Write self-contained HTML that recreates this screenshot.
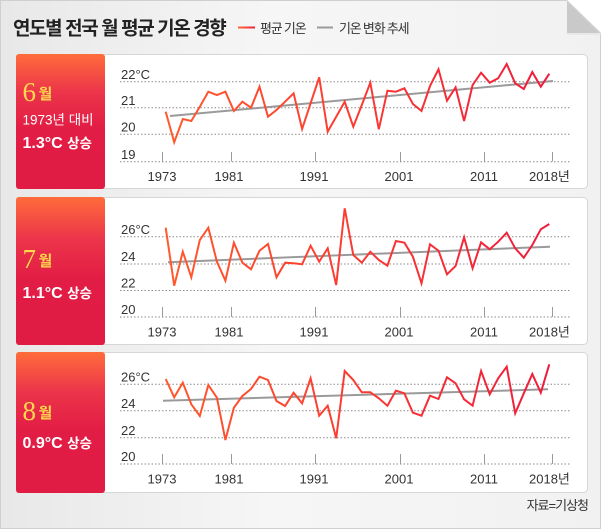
<!DOCTYPE html>
<html><head><meta charset="utf-8"><style>
html,body{margin:0;padding:0;background:#fff;}
svg{display:block;}
text{font-family:"Liberation Sans","Noto Sans CJK KR",sans-serif;}
</style></head><body>
<svg width="601" height="530" viewBox="0 0 601 530" xmlns="http://www.w3.org/2000/svg">
<defs>
<linearGradient id="bg" x1="0" x2="1" y1="0" y2="0">
<stop offset="0" stop-color="#e8e8e8"/><stop offset="0.45" stop-color="#f6f6f6"/><stop offset="1" stop-color="#f1f1f1"/>
</linearGradient>
<linearGradient id="rb" x1="0" x2="0" y1="0" y2="1">
<stop offset="0" stop-color="#ff6c3b"/><stop offset="0.28" stop-color="#ec354a"/><stop offset="0.55" stop-color="#e21d45"/><stop offset="1" stop-color="#e01b44"/>
</linearGradient>
<linearGradient id="ln" gradientUnits="userSpaceOnUse" x1="165" y1="0" x2="550" y2="0">
<stop offset="0" stop-color="#ff5a2c"/><stop offset="0.5" stop-color="#fb3a33"/><stop offset="1" stop-color="#ee1c3c"/>
</linearGradient>
<linearGradient id="lg" gradientUnits="userSpaceOnUse" x1="238" y1="0" x2="255" y2="0">
<stop offset="0" stop-color="#ff6a3a"/><stop offset="1" stop-color="#e8203e"/>
</linearGradient>
</defs>
<!-- frame -->
<rect x="0.5" y="0.5" width="600" height="528" fill="url(#bg)" stroke="#cfcfcf"/>
<polygon points="567,0 601,0 601,33" fill="#ffffff"/>
<polygon points="567,0 567,33 601,33" fill="#c9c9c9"/>
<line x1="567" y1="0.5" x2="601" y2="33.5" stroke="#d8d8d8"/>
<line x1="567" y1="34" x2="601" y2="34" stroke="#e0e0e0"/>

<!-- title -->
<text x="13" y="34.5" font-size="19" font-weight="bold" fill="#222" letter-spacing="-1.4">연도별 전국 월 평균 기온 경향</text>
<line x1="238" y1="27.5" x2="255" y2="27.5" stroke="url(#lg)" stroke-width="2"/>
<text x="260" y="33" font-size="13" fill="#333" letter-spacing="-1.2">평균 기온</text>
<line x1="317" y1="27.5" x2="333" y2="27.5" stroke="#9a9a9a" stroke-width="2"/>
<text x="339" y="33" font-size="13" fill="#333" letter-spacing="-1.2">기온 변화 추세</text>

<!-- panel boxes -->
<rect x="16.5" y="54.5" width="571" height="134" rx="4" fill="#fff" stroke="#d6d6d6"/>
<rect x="16.5" y="197.5" width="571" height="147" rx="4" fill="#fff" stroke="#d6d6d6"/>
<rect x="16.5" y="352.5" width="571" height="140" rx="4" fill="#fff" stroke="#d6d6d6"/>
<rect x="16" y="54" width="89" height="135" rx="3" fill="url(#rb)"/>
<rect x="16" y="197" width="89" height="148" rx="3" fill="url(#rb)"/>
<rect x="16" y="352" width="89" height="141" rx="3" fill="url(#rb)"/>

<!-- red box texts -->
<g fill="#ffd94c">
<text x="22.5" y="101" font-size="27" style="font-family:'Liberation Serif',serif">6</text>
<text x="38.5" y="99" font-size="15" font-weight="bold">월</text>
<text x="22.5" y="268" font-size="27" style="font-family:'Liberation Serif',serif">7</text>
<text x="38.5" y="266" font-size="15" font-weight="bold">월</text>
<text x="22.5" y="420" font-size="27" style="font-family:'Liberation Serif',serif">8</text>
<text x="38.5" y="418" font-size="15" font-weight="bold">월</text>
</g>
<g fill="#fff">
<text x="22.5" y="124.5" font-size="13.5">1973년 대비</text>
<text x="22.5" y="148" font-size="16" font-weight="bold">1.3°C <tspan font-size="13.5">상승</tspan></text>
<text x="22.5" y="298" font-size="16" font-weight="bold">1.1°C <tspan font-size="13.5">상승</tspan></text>
<text x="22.5" y="448" font-size="16" font-weight="bold">0.9°C <tspan font-size="13.5">상승</tspan></text>
</g>

<!-- gridlines -->
<g stroke="#8a8a8a" stroke-width="1" stroke-dasharray="1.5,2">
<line x1="120" y1="81.7" x2="570" y2="81.7"/><line x1="120" y1="107.7" x2="570" y2="107.7"/><line x1="120" y1="134.3" x2="570" y2="134.3"/><line x1="120" y1="161.7" x2="570" y2="161.7"/>
<line x1="120" y1="236.7" x2="570" y2="236.7"/><line x1="120" y1="264" x2="570" y2="264"/><line x1="120" y1="290.5" x2="570" y2="290.5"/><line x1="120" y1="317" x2="570" y2="317"/>
<line x1="120" y1="384.3" x2="570" y2="384.3"/><line x1="120" y1="410.7" x2="570" y2="410.7"/><line x1="120" y1="437.7" x2="570" y2="437.7"/><line x1="120" y1="464" x2="570" y2="464"/>
</g>
<!-- ticks -->
<g stroke="#9a9a9a" stroke-width="1">
<path d="M162.5,152V161.5M231.5,152V161.5M315.5,152V161.5M400.5,152V161.5M484.5,152V161.5M552.5,152V161.5"/>
<path d="M162.5,307V317M231.5,307V317M315.5,307V317M400.5,307V317M484.5,307V317M552.5,307V317"/>
<path d="M162.5,454V464M231.5,454V464M315.5,454V464M400.5,454V464M484.5,454V464M552.5,454V464"/>
</g>
<!-- y labels -->
<g fill="#333" font-size="13">
<text x="121" y="79">22°C</text><text x="121" y="105">21</text><text x="121" y="131.5">20</text><text x="121" y="159">19</text>
<text x="121" y="234">26°C</text><text x="121" y="261">24</text><text x="121" y="287.5">22</text><text x="121" y="314">20</text>
<text x="121" y="381.5">26°C</text><text x="121" y="408">24</text><text x="121" y="435">22</text><text x="121" y="461">20</text>
</g>
<!-- x labels -->
<g fill="#333" font-size="13" text-anchor="middle">
<text x="162" y="181">1973</text><text x="229" y="181">1981</text><text x="314" y="181">1991</text><text x="399" y="181">2001</text><text x="484" y="181">2011</text>
<text x="162" y="336.5">1973</text><text x="229" y="336.5">1981</text><text x="314" y="336.5">1991</text><text x="399" y="336.5">2001</text><text x="484" y="336.5">2011</text>
<text x="162" y="483.5">1973</text><text x="229" y="483.5">1981</text><text x="314" y="483.5">1991</text><text x="399" y="483.5">2001</text><text x="484" y="483.5">2011</text>
</g>
<g fill="#333" font-size="13">
<text x="529" y="181">2018년</text>
<text x="529" y="336.5">2018년</text>
<text x="529" y="483.5">2018년</text>
</g>

<!-- trend lines -->
<g stroke="#9a9a9a" stroke-width="2" fill="none">
<line x1="170" y1="116" x2="553" y2="81"/>
<line x1="168" y1="262.3" x2="550" y2="246.7"/>
<line x1="163" y1="400.7" x2="548" y2="389.3"/>
</g>

<!-- data lines -->
<g stroke="url(#ln)" stroke-width="2" fill="none" stroke-linejoin="miter" stroke-miterlimit="4">
<polyline points="165.7,111.7 174.2,142.3 182.8,119 191.3,121 199.8,106.7 208.3,91.7 216.9,95 225.4,91.7 233.9,111 242.4,101.7 251,107.7 259.5,86.7 268,116.7 276.5,110 285.1,101.7 293.6,93.3 302.1,129 310.6,103.3 319.2,77.3 327.7,131.7 336.2,116.7 344.7,101.7 353.3,126.7 361.8,105 370.3,82.7 378.8,129.3 387.4,90.7 395.9,91.7 404.4,88.3 412.9,104 421.5,111 430,86 438.5,69.3 447,100.7 455.6,87.3 464.1,121 472.6,85 481.1,72.7 489.7,82.7 498.2,78.3 506.7,64 515.2,83.3 523.8,89 532.3,72 540.8,86.7 549.3,73.7"/>
<polyline points="165.7,227.7 174.2,285.7 182.8,251.7 191.3,277.3 199.8,240 208.3,227.7 216.9,261.7 225.4,280.7 233.9,242.7 242.4,262.7 251,269.3 259.5,250.7 268,244 276.5,277.3 285.1,262.7 293.6,263.3 302.1,264.3 310.6,245.7 319.2,261.7 327.7,248.3 336.2,285 344.7,208.3 353.3,255 361.8,262.7 370.3,251.7 378.8,260 387.4,265.7 395.9,241 404.4,242.7 412.9,256.7 421.5,283.3 430,244.3 438.5,250.7 447,274.3 455.6,266 464.1,237.3 472.6,268.3 481.1,242.3 489.7,249.3 498.2,241.7 506.7,232.7 515.2,248.3 523.8,257.7 532.3,245 540.8,229.3 549.3,224"/>
<polyline points="165.7,379 174.2,397.3 182.8,382.7 191.3,404.3 199.8,416 208.3,385 216.9,397.7 225.4,440 233.9,407.7 242.4,396 251,389 259.5,376.7 268,380 276.5,401 285.1,406 293.6,392.7 302.1,403.3 310.6,378.3 319.2,415.7 327.7,405.7 336.2,438.3 344.7,371 353.3,380 361.8,392.3 370.3,392.3 378.8,398.3 387.4,405.7 395.9,390.7 404.4,393.3 412.9,412.7 421.5,415.7 430,395.7 438.5,399 447,377.3 455.6,383.3 464.1,399.3 472.6,405.7 481.1,371 489.7,394.3 498.2,378.3 506.7,366.7 515.2,413.3 523.8,393.3 532.3,374 540.8,392.7 549.3,364.3"/>
</g>

<!-- source -->
<text x="588" y="510" font-size="13" fill="#333" text-anchor="end" letter-spacing="-1">자료=기상청</text>
</svg>
</body></html>
